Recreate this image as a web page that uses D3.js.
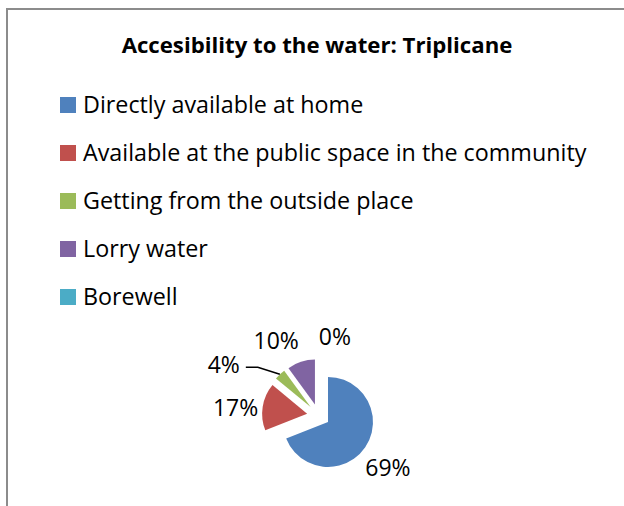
<!DOCTYPE html>
<html>
<head>
<meta charset="utf-8">
<script src="https://cdn.jsdelivr.net/npm/d3@7"></script>
<style>
    body { margin: 0; background: #fff; }
    text { font-family: "Open Sans", Lato, sans-serif; fill: #000; }
</style>
</head>
<body>
<div class="chart"></div>
<script>
// Chart data
var title = "Accesibility to the water: Triplicane";
var categories = [
    "Directly available at home",
    "Available at the public space in the community",
    "Getting from the outside place",
    "Lorry water",
    "Borewell"
];
var shares = [69, 17, 4, 10, 0];
var colors = ["#4F81BD", "#C0504D", "#9BBB59", "#8064A2", "#4BACC6"];

var svgWidth = 624;
var svgHeight = 506;

var svg = d3.select(".chart")
    .append("svg")
    .attr("width", svgWidth)
    .attr("height", svgHeight);

// Chart frame (runs off the right and bottom edge)
svg.append("rect")
    .attr("x", 7)
    .attr("y", 9)
    .attr("width", 660)
    .attr("height", 540)
    .attr("fill", "none")
    .attr("stroke", "#8c8c8c")
    .attr("stroke-width", 2);

// Title
svg.append("text")
    .attr("x", 317)
    .attr("y", 53)
    .attr("text-anchor", "middle")
    .style("font-size", "22.2px")
    .style("font-weight", "bold")
    .text(title);

// Legend
var color = d3.scaleOrdinal().domain(categories).range(colors);
var rowScale = d3.scaleBand()
    .domain(categories)
    .range([0, 48 * categories.length]);

var legend = svg.append("g")
    .attr("transform", "translate(60, 97)");

var rows = legend.selectAll("g")
    .data(categories)
    .enter()
    .append("g")
    .attr("transform", d => `translate(0, ${rowScale(d)})`);

rows.append("rect")
    .attr("width", 16)
    .attr("height", 16)
    .attr("fill", d => color(d));

rows.append("text")
    .attr("x", 23)
    .attr("y", 16)
    .style("font-size", "23.3px")
    .text(d => d);

// Pie
var radius = 45;
var explode = 11.5;
var labelDist = 84;
var cx = 318.5, cy = 415.5;

var pie = d3.pie().sort(null).value(d => d);
var arcs = pie(shares);
var total = d3.sum(shares);
var fmt = d3.format(".0%");
var arc = d3.arc().innerRadius(0).outerRadius(radius);

function dir(d) {
    var a = (d.startAngle + d.endAngle) / 2;
    return [Math.sin(a), -Math.cos(a)];
}

var pieGroup = svg.append("g")
    .attr("transform", `translate(${cx}, ${cy})`);

pieGroup.selectAll("path")
    .data(arcs.filter(d => d.value > 0))
    .enter()
    .append("path")
    .attr("d", arc)
    .attr("fill", d => colors[d.index])
    .attr("transform", function(d) {
        var v = dir(d);
        return `translate(${v[0] * explode}, ${v[1] * explode})`;
    });

// Data labels
var labels = arcs.map(function(d) {
    var v = dir(d);
    return {
        d: d,
        text: fmt(d.value / total),
        small: d.value > 0 && d.value / total < 0.05,
        x: v[0] * labelDist,
        y: v[1] * labelDist
    };
});

var labelText = pieGroup.selectAll(".pct")
    .data(labels)
    .enter()
    .append("text")
    .attr("class", "pct")
    .style("font-size", "23px")
    .text(l => l.text);

labelText.each(function(l) { l.w = this.getComputedTextLength(); });

// small slices get a leader line out to the left
labels.filter(l => l.small).forEach(function(l) {
    var v = dir(l.d);
    var ox = v[0] * (explode + radius), oy = v[1] * (explode + radius);
    var ex = ox - 22, ey = oy - 7;
    pieGroup.append("polyline")
        .attr("points", [[ox, oy], [ex, ey], [ex - 12, ey]].join(" "))
        .attr("fill", "none")
        .attr("stroke", "#000")
        .attr("stroke-width", 1.5);
    l.x = ex - 18 - l.w / 2;
    l.y = ey - 8;
});

// push overlapping labels apart horizontally
var free = labels.filter(l => !l.small).sort((a, b) => a.x - b.x);
for (var pass = 0; pass < 5; pass++) {
    for (var i = 0; i < free.length - 1; i++) {
        var a = free[i], b = free[i + 1];
        if (Math.abs(a.y - b.y) > 22) continue;
        var gap = (b.x - b.w / 2) - (a.x + a.w / 2);
        if (gap < 20) {
            var shift = (20 - gap) / 2;
            a.x -= shift;
            b.x += shift;
        }
    }
}

labelText
    .attr("x", l => l.x)
    .attr("y", l => l.y + 5)
    .attr("dy", "0.36em")
    .attr("text-anchor", "middle");
</script>
</body>
</html>
